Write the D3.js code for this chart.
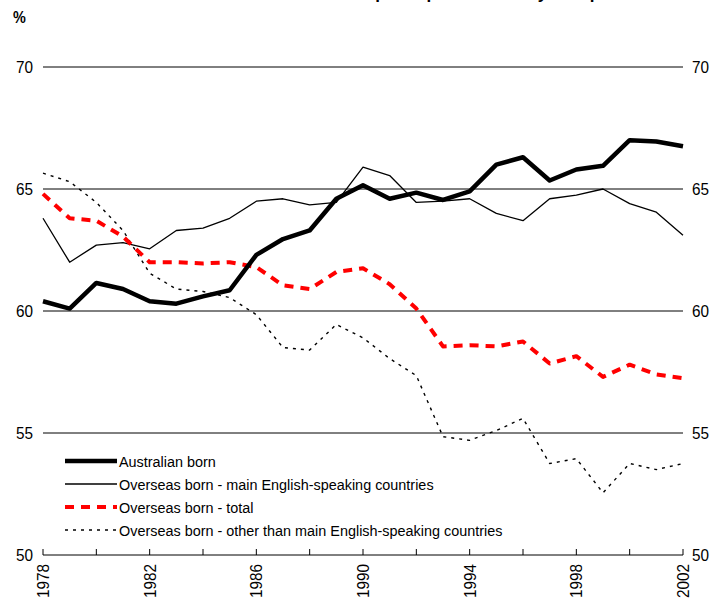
<!DOCTYPE html>
<html>
<head>
<meta charset="utf-8">
<script src="https://cdn.jsdelivr.net/npm/d3@7"></script>
<style>
  body { margin: 0; background: #fff; }
  text { font-family: Arial, "Liberation Sans", sans-serif; }
</style>
</head>
<body>
<div id="main"></div>
<script>
// Chart data
const years = d3.range(1978, 2003);
const australianBorn = [60.4, 60.1, 61.15, 60.9, 60.4, 60.3, 60.6, 60.85, 62.3, 62.95, 63.3, 64.6, 65.15,
  64.6, 64.85, 64.55, 64.9, 66.0, 66.3, 65.35, 65.8, 65.95, 67.0, 66.95, 66.75];
const mainEnglish = [63.8, 62.0, 62.7, 62.8, 62.55, 63.3, 63.4, 63.8, 64.5, 64.6, 64.35, 64.45, 65.9,
  65.55, 64.45, 64.5, 64.6, 64.0, 63.7, 64.6, 64.75, 65.0, 64.4, 64.05, 63.1];
const overseasTotal = [64.8, 63.8, 63.7, 63.05, 62.0, 62.0, 61.95, 62.0, 61.8, 61.05, 60.9, 61.6, 61.75,
  61.1, 60.1, 58.55, 58.6, 58.55, 58.75, 57.85, 58.15, 57.3, 57.8, 57.4, 57.25];
const otherThanMain = [65.65, 65.3, 64.45, 63.3, 61.55, 60.9, 60.8, 60.55, 59.85, 58.5, 58.4, 59.45, 58.9,
  58.05, 57.35, 54.85, 54.7, 55.1, 55.6, 53.75, 53.95, 52.55, 53.75, 53.5, 53.75];
const seriesNames = ['Australian born', 'Overseas born - main English-speaking countries',
  'Overseas born - total', 'Overseas born - other than main English-speaking countries'];
const yTicks = [50, 55, 60, 65, 70];
const xLabelYears = [1978, 1982, 1986, 1990, 1994, 1998, 2002];

/* layout */
const svgWidth = 716;
const svgHeight = 603;
const margin = { t: 67, r: 33, b: 48, l: 43 };
const width = svgWidth - margin.l - margin.r;
const height = svgHeight - margin.t - margin.b;
const tickFont = 17;
const squeeze = 0.9; // the original font is a little condensed

const svg = d3.select('#main')
  .append('svg')
  .attr('width', svgWidth)
  .attr('height', svgHeight);

// title, cut off at the top edge (only descenders show)
svg.append('text')
  .attr('x', 450)
  .attr('y', -1)
  .attr('text-anchor', 'middle')
  .style('font-size', '17px')
  .style('font-weight', 'bold')
  .text('Labour force participation rates by birthplace');

svg.append('text')
  .attr('transform', 'translate(13, 23) scale(0.9, 1)')
  .style('font-size', '16px')
  .style('font-weight', 'bold')
  .text('%');

const plot = svg.append('g')
  .attr('transform', `translate(${margin.l}, ${margin.t})`);

const x = d3.scaleLinear().domain([1978, 2002]).range([0, width]);
const y = d3.scaleLinear().domain([50, 70]).range([height, 0]);

// gridlines
plot.selectAll('.grid')
  .data(yTicks)
  .enter().append('line')
  .attr('x1', 0).attr('x2', width)
  .attr('y1', d => y(d)).attr('y2', d => y(d))
  .attr('stroke', '#000')
  .attr('stroke-width', 1);

// y labels left and right
plot.selectAll('.ylabL')
  .data(yTicks)
  .enter().append('text')
  .attr('transform', d => `translate(-10, ${y(d) + 6}) scale(${squeeze}, 1)`)
  .attr('text-anchor', 'end')
  .style('font-size', tickFont + 'px')
  .text(d => d);

plot.selectAll('.ylabR')
  .data(yTicks)
  .enter().append('text')
  .attr('transform', d => `translate(${width + 9}, ${y(d) + 6}) scale(${squeeze}, 1)`)
  .attr('text-anchor', 'start')
  .style('font-size', tickFont + 'px')
  .text(d => d);

// x ticks (inward)
plot.selectAll('.xtick')
  .data(d3.range(1978, 2003, 2))
  .enter().append('line')
  .attr('x1', d => x(d)).attr('x2', d => x(d))
  .attr('y1', height).attr('y2', height - 6)
  .attr('stroke', '#000');

plot.selectAll('.xlab')
  .data(xLabelYears)
  .enter().append('text')
  .attr('transform', d => `translate(${x(d) + 6}, ${height + 9}) rotate(-90) scale(${squeeze}, 1)`)
  .attr('text-anchor', 'end')
  .style('font-size', tickFont + 'px')
  .text(d => d);

const line = d3.line()
  .x((d, i) => x(years[i]))
  .y(d => y(d));

const styles = [
  { data: australianBorn, stroke: '#000', width: 4.5, dash: null },
  { data: mainEnglish, stroke: '#000', width: 1.3, dash: null },
  { data: overseasTotal, stroke: '#ff0000', width: 4, dash: '9,7' },
  { data: otherThanMain, stroke: '#000', width: 1.4, dash: '3,5' }
];

// draw in order: dotted, thin, red, thick
[3, 1, 2, 0].forEach(i => {
  const s = styles[i];
  plot.append('path')
    .datum(s.data)
    .attr('d', line)
    .attr('fill', 'none')
    .attr('stroke', s.stroke)
    .attr('stroke-width', s.width)
    .attr('stroke-dasharray', s.dash)
    .attr('stroke-linejoin', 'round');
});

// legend
const legend = svg.append('g').attr('class', 'legend');
const legendRows = [461, 484, 507, 530];
seriesNames.forEach((name, i) => {
  const s = styles[i];
  legend.append('line')
    .attr('x1', 65).attr('x2', 117)
    .attr('y1', legendRows[i]).attr('y2', legendRows[i])
    .attr('stroke', s.stroke)
    .attr('stroke-width', s.width)
    .attr('stroke-dasharray', s.dash);
  legend.append('text')
    .attr('transform', `translate(119, ${legendRows[i] + 5.5}) scale(0.93, 1)`)
    .style('font-size', '15.5px')
    .text(name);
});
</script>
</body>
</html>
